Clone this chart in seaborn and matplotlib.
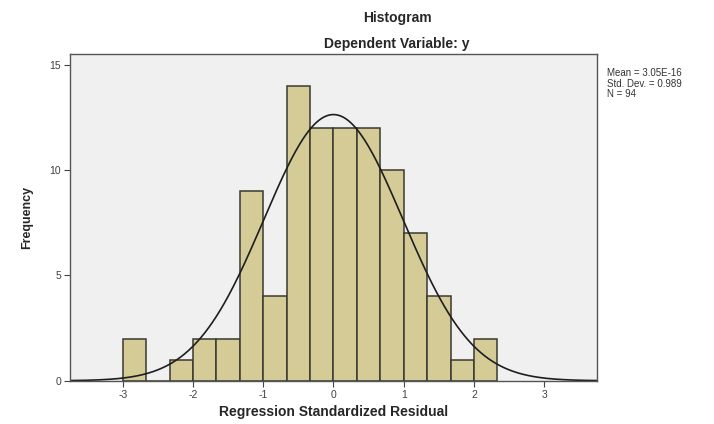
import numpy as np
import pandas as pd
import matplotlib
matplotlib.use("Agg")
import matplotlib.pyplot as plt
import seaborn as sns

# ---- data ----
bin_edges = [-3.0, -2.6667, -2.3333, -2.0, -1.6667, -1.3333, -1.0, -0.6667,
             -0.3333, 0.0, 0.3333, 0.6667, 1.0, 1.3333, 1.6667, 2.0, 2.3333]
counts = [2, 0, 1, 2, 2, 9, 4, 14, 12, 12, 12, 10, 7, 4, 1, 2]
stat_mean = 3.05e-16
stat_std = 0.989
stat_n = 94
x_ticks = [-3, -2, -1, 0, 1, 2, 3]
y_ticks = [0, 5, 10, 15]
title_main = "Histogram"
title_sub = "Dependent Variable: y"
x_label = "Regression Standardized Residual"
y_label = "Frequency"
stats_text = ["Mean = 3.05E-16", "Std. Dev. = 0.989", "N = 94"]

sns.set_theme(style="white")
plt.rcParams['font.family'] = ['Liberation Sans', 'DejaVu Sans']

centers = [(a + b) / 2 for a, b in zip(bin_edges[:-1], bin_edges[1:])]
df = pd.DataFrame({"resid": centers, "count": counts})

fig = plt.figure(figsize=(7.14, 4.24), dpi=100)
ax = fig.add_axes([0.098, 0.102, 0.738, 0.771])
ax.set_facecolor("#F0F0F0")

sns.histplot(data=df, x="resid", weights="count", bins=bin_edges, ax=ax,
             color="#D4CB96", alpha=1.0, edgecolor="#3A3A30", linewidth=1.1)

# normal curve
bw = bin_edges[1] - bin_edges[0]
xs = np.linspace(-3.75, 3.75, 400)
ys = stat_n * bw / (stat_std * np.sqrt(2 * np.pi)) * np.exp(-0.5 * ((xs - stat_mean) / stat_std) ** 2)
sns.lineplot(x=xs, y=ys, ax=ax, color="#1E1E1E", linewidth=1.2)

ax.set_xlim(-3.75, 3.75)
ax.set_ylim(0, 15.52)
ax.set_xticks(x_ticks)
ax.set_xticklabels([str(t) for t in x_ticks])
ax.set_yticks(y_ticks)
ax.set_yticklabels([str(t) for t in y_ticks])
ax.tick_params(axis="both", direction="out", length=4, width=0.8, color="#444444",
               labelsize=7.5, labelcolor="#404040", pad=2.5)
ax.tick_params(axis="x", bottom=True)
ax.tick_params(axis="y", left=True)

for s in ax.spines.values():
    s.set_color("#555555")
    s.set_linewidth(1.0)
    s.set_visible(True)

ax.set_xlabel(x_label, fontsize=10, fontweight="bold", labelpad=4)
ax.set_ylabel(y_label, fontsize=9, fontweight="bold", labelpad=12)

fig.text(0.556, 0.958, title_main, ha="center", va="center", fontsize=10, fontweight="bold")
fig.text(0.556, 0.897, title_sub, ha="center", va="center", fontsize=10, fontweight="bold")

fig.text(0.850, 0.840, "\n".join(stats_text), ha="left", va="top", fontsize=7,
         color="#333333", linespacing=1.1)

fig.savefig("out.png", dpi=100)
